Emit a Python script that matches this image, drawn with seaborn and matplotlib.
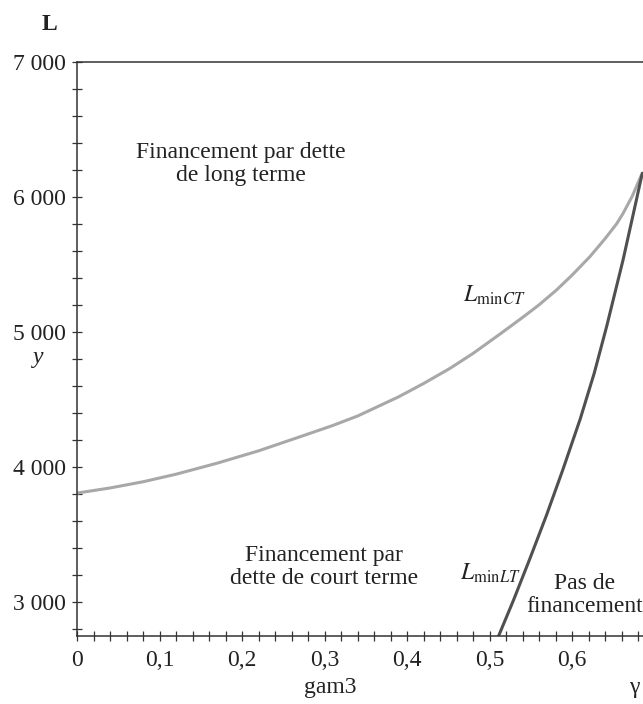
import numpy as np
import pandas as pd
import seaborn as sns
import matplotlib.pyplot as plt
from matplotlib.ticker import FixedLocator, MultipleLocator

# Seuils de financement en fonction de gamma
gamma_ct = [0.0, 0.04, 0.08, 0.12, 0.17, 0.22, 0.27, 0.31, 0.34, 0.39, 0.42,
            0.452, 0.48, 0.513, 0.541, 0.56, 0.581, 0.60, 0.6215, 0.64,
            0.654, 0.6618, 0.673, 0.684]
l_min_ct = [3805, 3843, 3889, 3945, 4027, 4118, 4222, 4306, 4376, 4519, 4617,
            4729, 4840, 4985, 5111, 5200, 5309, 5420, 5556, 5690,
            5800, 5877, 6005, 6161]

gamma_lt = [0.511, 0.529, 0.549, 0.569, 0.589, 0.610, 0.627, 0.642, 0.6618,
            0.678, 0.6852]
l_min_lt = [2746, 3010, 3320, 3640, 3980, 4355, 4695, 5040, 5531,
            5976, 6176]

y_ticks = [3000, 4000, 5000, 6000, 7000]
y_tick_labels = ["3 000", "4 000", "5 000", "6 000", "7 000"]
x_ticks = [0.0, 0.1, 0.2, 0.3, 0.4, 0.5, 0.6]
x_tick_labels = ["0", "0,1", "0,2", "0,3", "0,4", "0,5", "0,6"]

sns.set_style("ticks")
plt.rcParams["font.family"] = ["Liberation Serif", "DejaVu Serif"]
plt.rcParams["mathtext.fontset"] = "stix"

W, H = 643, 704
fig = plt.figure(figsize=(W / 100, H / 100), dpi=100)
ax = fig.add_axes([77 / W, 1 - 636 / H, (W - 77) / W, (636 - 62) / H])

df_ct = pd.DataFrame({"gamma": gamma_ct, "L": l_min_ct})
df_lt = pd.DataFrame({"gamma": gamma_lt, "L": l_min_lt})
sns.lineplot(data=df_ct, x="gamma", y="L", ax=ax, color="#a8a8a8", lw=2.2)
sns.lineplot(data=df_lt, x="gamma", y="L", ax=ax, color="#505050", lw=2.2)

ax.set_xlim(0, (W - 77) / 825)
ax.set_ylim(2746, 7000)
ax.set_xlabel("")
ax.set_ylabel("")

axis_col = "#333333"
for side in ["left", "bottom", "top"]:
    ax.spines[side].set_color(axis_col)
    ax.spines[side].set_linewidth(1.1)
ax.spines["right"].set_visible(False)

ax.xaxis.set_major_locator(FixedLocator(x_ticks))
ax.set_xticklabels(x_tick_labels)
ax.xaxis.set_minor_locator(MultipleLocator(0.02))
ax.yaxis.set_major_locator(FixedLocator(y_ticks))
ax.set_yticklabels(y_tick_labels)
ax.yaxis.set_minor_locator(MultipleLocator(200))

ax.tick_params(which="both", direction="inout", length=7.5, width=0.9,
               color=axis_col, labelsize=17, labelcolor="#222222")
ax.tick_params(axis="x", which="both", top=False, pad=6)
ax.tick_params(axis="y", which="both", right=False, pad=4)

txt = dict(fontsize=17, color="#222222", ha="center", va="center")


def px(x, y):
    return x / W, 1 - y / H


fig.text(*px(49, 25), "L", fontweight="bold", **txt)
fig.text(*px(38, 357), "y", style="italic", **txt)
fig.text(*px(330, 688), "gam3", **txt)
fig.text(*px(634, 688), "γ", **txt)

fig.text(*px(241, 164), "Financement par dette\nde long terme", linespacing=1.15, **txt)
fig.text(*px(324, 567), "Financement par\ndette de court terme", linespacing=1.15, **txt)
fig.text(*px(585, 595), "Pas de\nfinancement", linespacing=1.15, **txt)
fig.text(*px(494, 295), r"$L_{\mathrm{min}CT}$", **txt)
fig.text(*px(490, 573), r"$L_{\mathrm{min}LT}$", **txt)

fig.savefig("out.png", dpi=100)
